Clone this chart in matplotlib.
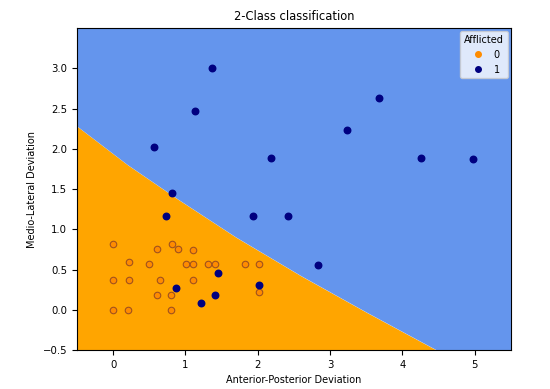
import numpy as np
import matplotlib
matplotlib.use("Agg")
import matplotlib.pyplot as plt
from matplotlib.lines import Line2D

# class 0 (not afflicted)
x0 = [0.0, 0.22, 0.0, 0.22, 0.0, 0.2, 0.5, 0.61, 0.65, 0.61, 0.81, 0.9, 0.8, 0.8,
      1.01, 1.11, 1.11, 1.11, 1.31, 1.41, 1.82, 2.02, 2.02]
y0 = [0.82, 0.6, 0.37, 0.37, 0.0, 0.0, 0.57, 0.75, 0.37, 0.18, 0.82, 0.75, 0.19, 0.0,
      0.57, 0.57, 0.74, 0.37, 0.57, 0.57, 0.57, 0.57, 0.22]

# class 1 (afflicted)
x1 = [0.73, 1.93, 2.42, 1.45, 0.87, 1.41, 1.22, 2.02, 1.37, 1.13, 0.57, 0.81,
      3.68, 3.24, 2.18, 4.26, 4.98, 2.83]
y1 = [1.17, 1.17, 1.17, 0.46, 0.27, 0.19, 0.08, 0.31, 3.0, 2.47, 2.02, 1.45,
      2.63, 2.23, 1.88, 1.88, 1.87, 0.56]

# decision boundary
bx = [-0.5, 0.2, 0.9, 1.7, 2.6, 3.5, 4.47, 5.5]
by = [2.28, 1.80, 1.37, 0.90, 0.42, -0.03, -0.5, -1.0]

fig = plt.figure(figsize=(5.5, 3.89), dpi=100)
ax = fig.add_axes([0.14, 0.10, 0.789, 0.828])
plt.rcParams.update({'font.size': 7})

# regions
ax.fill_between(bx, -1, by, color="orange", lw=0)
ax.fill_between(bx, by, 4, color="cornflowerblue", lw=0)

ax.scatter(x0, y0, s=22, facecolor="darkorange", edgecolor="#a0521e", linewidths=0.8, zorder=3)
ax.scatter(x1, y1, s=22, color="navy", zorder=3)

ax.set_xlim(-0.5, 5.5)
ax.set_ylim(-0.5, 3.5)
ax.set_xticks([0, 1, 2, 3, 4, 5])
ax.set_yticks([-0.5, 0.0, 0.5, 1.0, 1.5, 2.0, 2.5, 3.0])
ax.tick_params(labelsize=7.3)
ax.set_title("2-Class classification", fontsize=8.3)
ax.set_xlabel("Anterior-Posterior Deviation", fontsize=7)
ax.set_ylabel("Medio-Lateral Deviation", fontsize=7)

handles = [Line2D([], [], marker="o", ls="", color="darkorange", markersize=4),
           Line2D([], [], marker="o", ls="", color="navy", markersize=4)]
ax.legend(handles, ["0", "1"], title="Afflicted", loc="upper right",
          fontsize=7, title_fontsize=7, handletextpad=0.6, borderaxespad=0.3)

fig.savefig("out.png", dpi=100)
